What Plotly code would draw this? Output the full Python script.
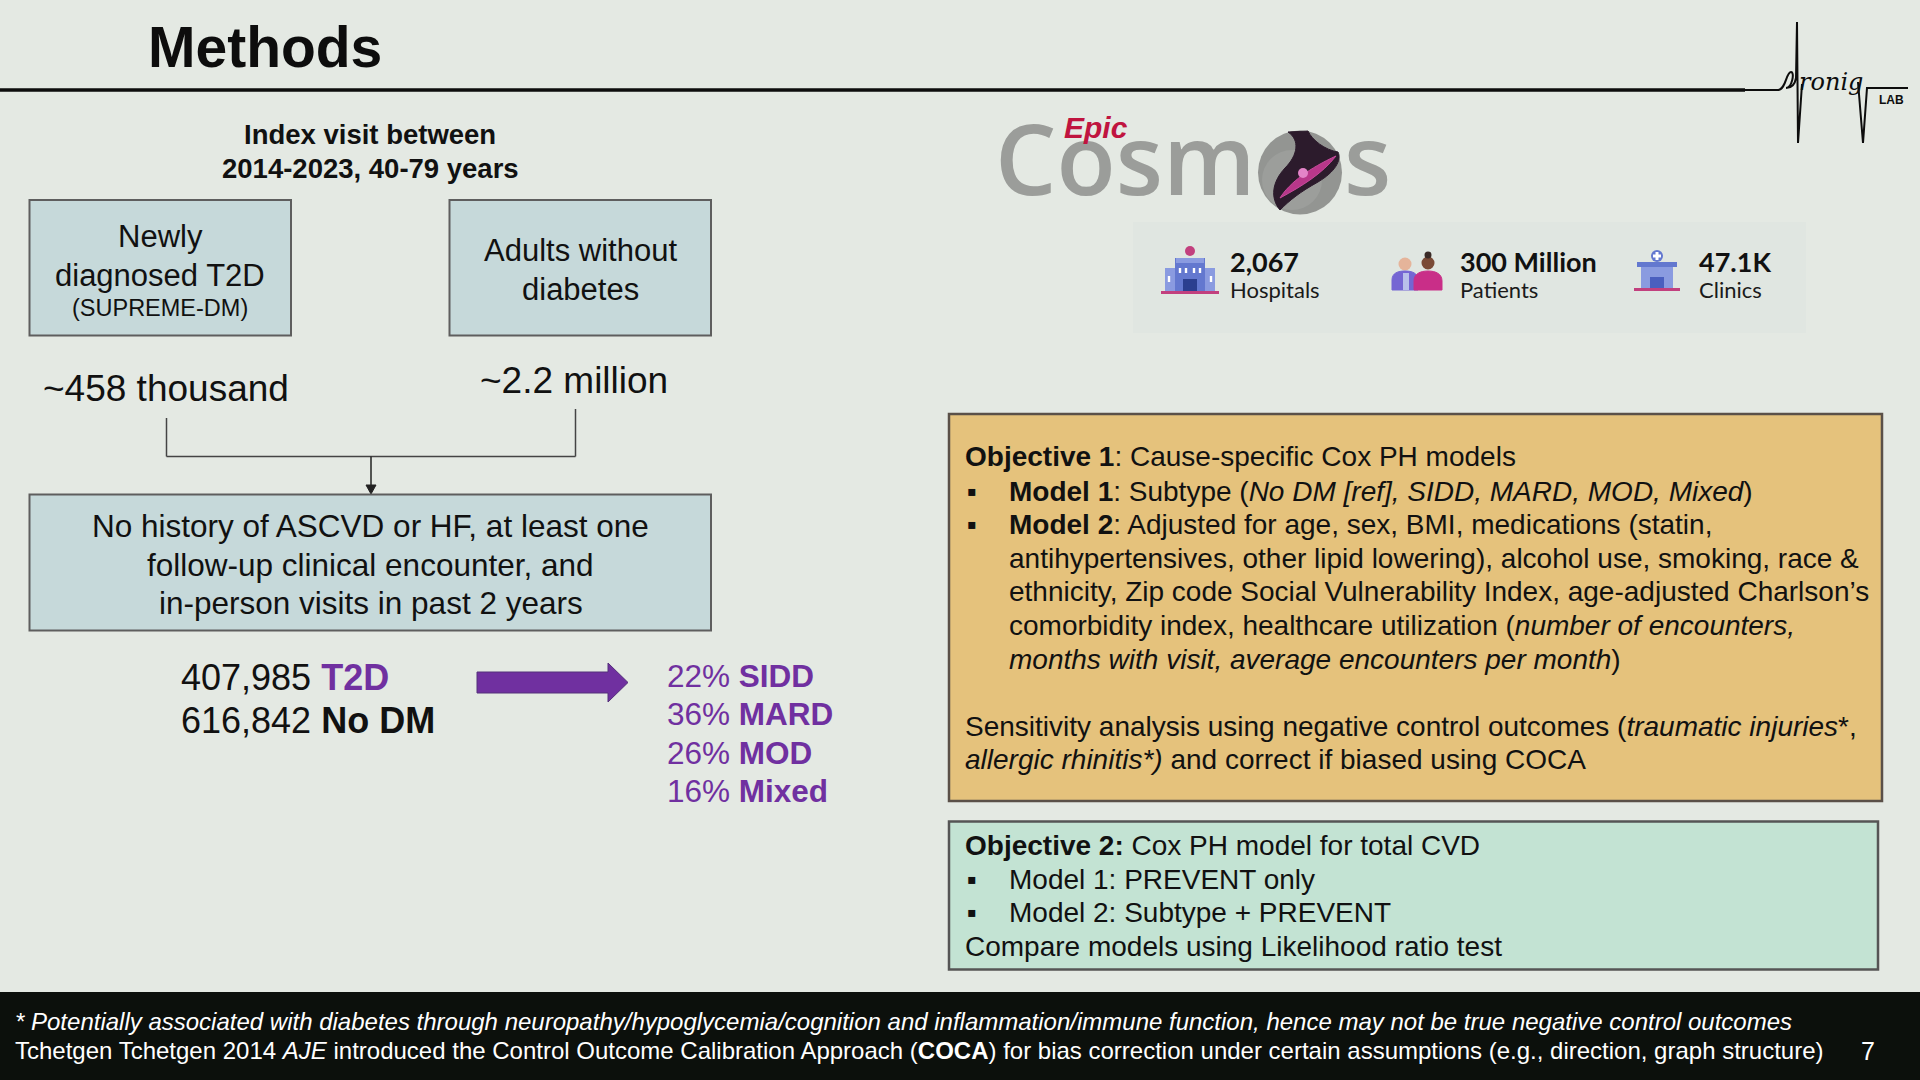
import plotly.graph_objects as go

# ---------------- data ----------------
title = "Methods"
index_lines = ["Index visit between", "2014-2023, 40-79 years"]
box_t2d_lines = ["Newly", "diagnosed T2D", "(SUPREME-DM)"]
box_nodm_lines = ["Adults without", "diabetes"]
source_counts = ["~458 thousand", "~2.2 million"]
criteria_lines = ["No history of ASCVD or HF, at least one",
                  "follow-up clinical encounter, and",
                  "in-person visits in past 2 years"]
final_n = [407985, 616842]
final_labels = ["T2D", "No DM"]
subtypes = ["SIDD", "MARD", "MOD", "Mixed"]
subtype_pct = [22, 36, 26, 16]
cosmos_values = ["2,067", "300 Million", "47.1K"]
cosmos_labels = ["Hospitals", "Patients", "Clinics"]
obj1_lines = [
    "<b>Objective 1</b>: Cause-specific Cox PH models",
    "<b>Model 1</b>: Subtype (<i>No DM [ref], SIDD, MARD, MOD, Mixed</i>)",
    "<b>Model 2</b>: Adjusted for age, sex, BMI, medications (statin,",
    "antihypertensives, other lipid lowering), alcohol use, smoking, race &amp;",
    "ethnicity, Zip code Social Vulnerability Index, age-adjusted Charlson\u2019s",
    "comorbidity index, healthcare utilization (<i>number of encounters,</i>",
    "<i>months with visit, average encounters per month</i>)",
    "Sensitivity analysis using negative control outcomes (<i>traumatic injuries</i>*,",
    "<i>allergic rhinitis*)</i> and correct if biased using COCA",
]
obj2_lines = [
    "<b>Objective 2:</b> Cox PH model for total CVD",
    "Model 1: PREVENT only",
    "Model 2: Subtype + PREVENT",
    "Compare models using Likelihood ratio test",
]
footer_lines = [
    "<i>* Potentially associated with diabetes through neuropathy/hypoglycemia/cognition and inflammation/immune function, hence may not be true negative control outcomes</i>",
    "Tchetgen Tchetgen 2014 <i>AJE</i> introduced the Control Outcome Calibration Approach (<b>COCA</b>) for bias correction under certain assumptions (e.g., direction, graph structure)",
]
page_number = "7"

# ---------------- style ----------------
W, H = 1920, 1080
BG = "#e4e9e3"
PURPLE = "#7030a0"
INK = "#111111"
ARIAL = "Liberation Sans, Arial, sans-serif"
BOXBLUE = "#c6d9da"
BOXLINE = "#5e5e5e"
GOLD = "#e5c27c"
MINT = "#c3e3d3"

shapes = []
annotations = []


def txt(x, y, text, size, color=INK, xanchor="left", family=ARIAL, weight=None):
    f = dict(size=size, color=color, family=family)
    if weight:
        f["weight"] = weight
    annotations.append(dict(x=x, y=y, xref="x", yref="y", text=text, showarrow=False,
                            xanchor=xanchor, yanchor="middle", font=f, borderpad=0))


def rect(x0, y0, x1, y1, fill, line=None, lw=0, layer="above"):
    shapes.append(dict(type="rect", xref="x", yref="y", x0=x0, y0=y0, x1=x1, y1=y1,
                       fillcolor=fill, line=dict(color=line or fill, width=lw), layer=layer))


def circ(cx, cy, r, fill, line=None, lw=0):
    shapes.append(dict(type="circle", xref="x", yref="y", x0=cx - r, y0=cy - r, x1=cx + r, y1=cy + r,
                       fillcolor=fill, line=dict(color=line or fill, width=lw), layer="above"))


def seg(x0, y0, x1, y1, color, width):
    shapes.append(dict(type="line", xref="x", yref="y", x0=x0, y0=y0, x1=x1, y1=y1,
                       line=dict(color=color, width=width), layer="above"))


def path(p, fill=None, color=INK, width=1):
    d = dict(type="path", xref="x", yref="y", path=p, line=dict(color=color, width=width), layer="above")
    if fill:
        d["fillcolor"] = fill
    shapes.append(d)


# ---------------- header ----------------
txt(147, 47, f"<b>{title}</b>", 57, "#0d0d0d")
seg(0, 90, 1745, 90, "#0d0d0d", 3.5)

# Chronic lab logo (ECG style)
path("M 1743 90 L 1778 90 C 1786 90 1786 72 1791 72 C 1795 72 1792 88 1786 88 "
     "C 1792 88 1795 84 1796 78 L 1797 22 L 1798 143 L 1802 84", color="#0d0d0d", width=2)
txt(1831, 82, "<i>ronig</i>", 24, "#0d0d0d", "center", "DejaVu Serif, serif")
path("M 1858 82 L 1863 143 L 1867 88 L 1908 88", color="#0d0d0d", width=2)
txt(1891, 100, "<b>LAB</b>", 12, "#0d0d0d", "center")

# ---------------- left flow chart ----------------
txt(370, 134.5, f"<b>{index_lines[0]}</b>", 27.5, INK, "center")
txt(370, 168, f"<b>{index_lines[1]}</b>", 27.5, INK, "center")

rect(29.5, 200, 291, 335.5, BOXBLUE, BOXLINE, 2)
rect(449.5, 200, 711, 335.5, BOXBLUE, BOXLINE, 2)
txt(160, 236, box_t2d_lines[0], 31, INK, "center")
txt(160, 275, box_t2d_lines[1], 31, INK, "center")
txt(160, 308, box_t2d_lines[2], 23.5, INK, "center")
txt(580, 250.5, box_nodm_lines[0], 31, INK, "center")
txt(580, 289.5, box_nodm_lines[1], 31, INK, "center")

txt(166, 388.5, source_counts[0], 37, INK, "center")
txt(574, 380.5, source_counts[1], 37, INK, "center")

seg(166.5, 418, 166.5, 456.5, "#444", 1.5)
seg(575.5, 409, 575.5, 456.5, "#444", 1.5)
seg(166.5, 456.5, 575.5, 456.5, "#444", 1.5)
seg(371, 456.5, 371, 487, "#222", 1.5)
path("M 366 485 L 376 485 L 371 494 Z", fill="#222", color="#222", width=1)

rect(29.5, 494.5, 711, 630.5, BOXBLUE, BOXLINE, 2)
for i, line in enumerate(criteria_lines):
    txt(370.5, 526 + 38.7 * i, line, 31.5, INK, "center")

# final counts
txt(180, 677, f"{final_n[0]:,} <b><span style='color:{PURPLE}'>{final_labels[0]}</span></b>", 36, INK)
txt(180, 720, f"{final_n[1]:,} <b>{final_labels[1]}</b>", 36, INK)

# purple arrow
path("M 477 672 L 608 672 L 608 663 L 628 682.5 L 608 702 L 608 693 L 477 693 Z",
     fill=PURPLE, color="#54307a", width=1)

for i, (s, p) in enumerate(zip(subtypes, subtype_pct)):
    txt(666, 676 + 38.4 * i, f"{p}% <b>{s}</b>", 31.5, PURPLE)

# ---------------- Cosmos logo ----------------
txt(1256, 157, "Cosm", 97, "#9b9d9a", "right", "Open Sans, sans-serif", 600)
txt(1343, 157, "s", 97, "#9b9d9a", "left", "Open Sans, sans-serif", 600)
circ(1300, 172.5, 42, "#939592")
circ(1292, 180, 30, "#9c9e9b")
path("M 1288 132 C 1300 140 1298 155 1285 168 C 1272 182 1270 198 1280 210 "
     "C 1290 200 1300 192 1318 182 C 1335 172 1342 160 1338 152 C 1325 150 1312 140 1308 131 Z",
     fill="#2c1b2c", color="#2c1b2c", width=1)
path("M 1280 198 C 1290 182 1310 168 1336 156 C 1322 174 1302 186 1280 198 Z",
     fill="#b8378a", color="#c84b9c", width=1)
circ(1303, 173, 5, "#e384c8")
txt(1096, 127, "<b><i>Epic</i></b>", 30, "#c0143f", "center")

# stats panel
shapes.append(dict(type="rect", xref="x", yref="y", x0=1133, y0=222, x1=1806, y1=333,
                   fillcolor="#e0e6e1", line=dict(width=0), layer="below"))
# hospital icon
rect(1165, 268, 1215, 291, "#8a9be0")
rect(1175, 258, 1205, 291, "#6378cf")
rect(1176, 258, 1204, 263, "#8a9be0")
circ(1190, 251, 5, "#c2407e")
rect(1183, 279, 1197, 291, "#2b3f8f")
for xx in (1180, 1186, 1194, 1200):
    rect(xx - 1.2, 268, xx + 1.2, 273, "#ffffff")
for xx in (1169, 1211):
    rect(xx - 1.2, 276, xx + 1.2, 282, "#ffffff")
seg(1161, 292.5, 1219, 292.5, "#c2407e", 3)
# people icon
circ(1405, 264, 6.5, "#e5b49a")
path("M 1392 290 L 1392 280 C 1392 273 1398 271 1405 271 C 1412 271 1418 273 1418 280 L 1418 290 Z",
     fill="#7566d3", color="#7566d3")
rect(1403, 273, 1409, 290, "#b9c0ea")
circ(1428, 263, 6.5, "#7a4a36")
circ(1428, 255, 3.5, "#3a2a26")
path("M 1414 290 L 1414 281 C 1414 274 1420 271 1428 271 C 1436 271 1442 274 1442 281 L 1442 290 Z",
     fill="#c92e88", color="#c92e88")
# clinic icon
rect(1641, 266, 1673, 288, "#8a9be0")
rect(1637, 262, 1677, 267, "#6378cf")
circ(1657, 256, 6, "#6378cf")
rect(1655.5, 252, 1658.5, 260, "#ffffff")
rect(1653, 254.5, 1661, 257.5, "#ffffff")
rect(1650, 277, 1664, 288, "#4a5fbf")
seg(1634, 289.5, 1680, 289.5, "#c2407e", 3)

stat_x = [1229, 1459, 1698]
for x, v, l in zip(stat_x, cosmos_values, cosmos_labels):
    txt(x, 261, v, 27, INK, "left", "Lato, sans-serif", 700)
    txt(x, 289, l, 22, "#1a1a1a", "left", "Lato, sans-serif")

# ---------------- Objective boxes ----------------
rect(949, 414, 1882, 801, GOLD, "#5a5048", 2.5)
obj1_y = [456.7, 491, 524, 558, 591.5, 625, 659, 726.5, 759.5]
obj1_x = [964, 1008, 1008, 1008, 1008, 1008, 1008, 964, 964]
for x, y, line in zip(obj1_x, obj1_y, obj1_lines):
    txt(x, y, line, 28, INK)
for y in obj1_y[1:3]:
    txt(966, y, "\u25aa", 28, INK)

rect(949, 821.5, 1878, 969.5, MINT, "#555555", 2.5)
obj2_y = [845, 879, 912.5, 946.5]
obj2_x = [964, 1008, 1008, 964]
for x, y, line in zip(obj2_x, obj2_y, obj2_lines):
    txt(x, y, line, 28, INK)
for y in obj2_y[1:3]:
    txt(966, y, "\u25aa", 28, INK)

# ---------------- footer ----------------
rect(0, 992, 1920, 1080, "#0c100c", layer="below")
txt(14, 1021, footer_lines[0], 24, "#ffffff")
txt(14, 1050.5, footer_lines[1], 24, "#ffffff")
txt(1868, 1050.5, page_number, 25, "#ffffff", "center")

fig = go.Figure()
fig.add_trace(go.Scatter(x=[0, W], y=[0, H], mode="markers", marker=dict(opacity=0),
                         hoverinfo="skip", showlegend=False))
fig.update_layout(
    width=W, height=H, margin=dict(l=0, r=0, t=0, b=0),
    paper_bgcolor=BG, plot_bgcolor=BG,
    xaxis=dict(range=[0, W], visible=False, fixedrange=True),
    yaxis=dict(range=[H, 0], visible=False, fixedrange=True),
    shapes=shapes, annotations=annotations, showlegend=False,
)
fig.write_html("out.html", config={"displayModeBar": False},
               post_script="document.body.style.margin='0';document.body.style.overflow='hidden';")
